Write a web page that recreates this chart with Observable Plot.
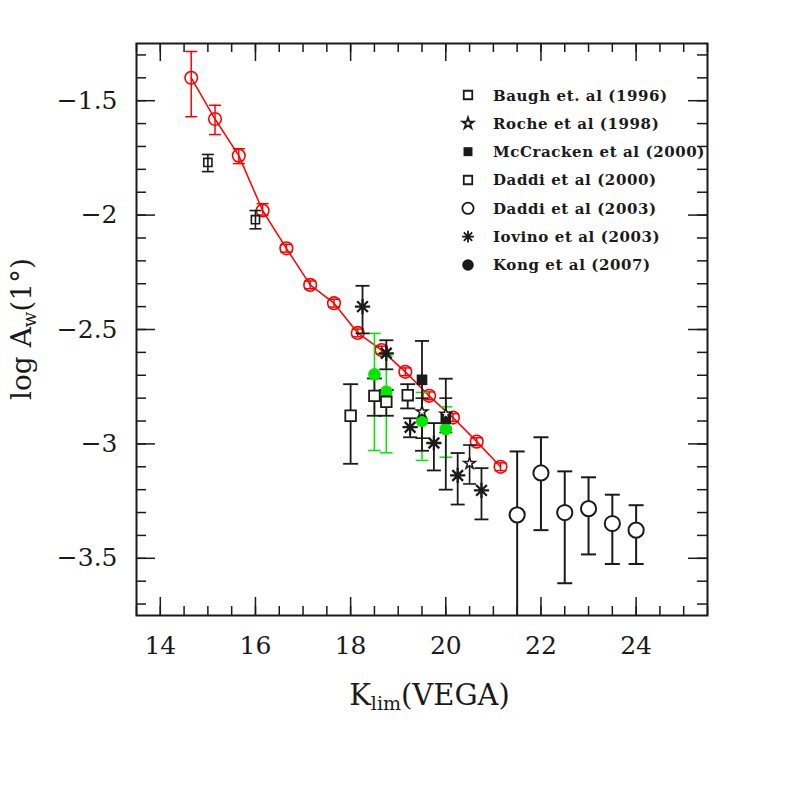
<!DOCTYPE html>
<html>
<head>
<meta charset="utf-8">
<script src="https://cdn.jsdelivr.net/npm/d3@7"></script>
<script src="https://cdn.jsdelivr.net/npm/@observablehq/plot@0.6"></script>
<style>
  body { margin: 0; background: #fff; }
  #chart { position: relative; width: 797px; height: 797px; }
</style>
</head>
<body>
<div id="chart"></div>
<script>
// ---------- tick labels ----------
const xMajor = [14, 16, 18, 20, 22, 24];
const yMajor = [-3.5, -3, -2.5, -2, -1.5];

// ---------- this work (red) ----------
const redK  = [14.65, 15.15, 15.65, 16.15, 16.65, 17.15, 17.65, 18.15, 18.65, 19.15, 19.65, 20.15, 20.65, 21.15];
const redA  = [-1.40, -1.58, -1.74, -1.98, -2.145, -2.305, -2.385, -2.515, -2.59, -2.685, -2.79, -2.885, -2.99, -3.10];
const redLo = [-1.57, -1.648, -1.775, -2.00, -2.162, -2.322, -2.402, -2.532, -2.607, -2.702, -2.807, -2.902, -3.007, -3.117];
const redHi = [-1.285, -1.52, -1.71, -1.95, -2.128, -2.288, -2.368, -2.498, -2.573, -2.668, -2.773, -2.868, -2.973, -3.083];

// ---------- Baugh et. al (1996) ----------
const baughK  = [15, 16];
const baughA  = [-1.77, -2.02];
const baughLo = [-1.81, -2.06];
const baughHi = [-1.735, -1.98];

// ---------- Roche et al (1998) ----------
const rocheK  = [19.5, 20, 20.5];
const rocheA  = [-2.86, -2.87, -3.085];
const rocheLo = [-2.975, -2.95, -3.175];
const rocheHi = [-2.80, -2.80, -3.005];

// ---------- McCracken et al (2000) ----------
const mccK  = [19.5, 20];
const mccA  = [-2.72, -2.89];
const mccLo = [-3.03, -3.20];
const mccHi = [-2.55, -2.715];

// ---------- Daddi et al (2000) ----------
const d00K  = [18, 18.5, 18.75, 19.2];
const d00A  = [-2.877, -2.79, -2.816, -2.787];
const d00Lo = [-3.087, -2.877, -2.877, -2.845];
const d00Hi = [-2.739, -2.714, -2.764, -2.739];

// ---------- Daddi et al (2003) ----------
const d03K  = [21.5, 22, 22.5, 23, 23.5, 24];
const d03A  = [-3.31, -3.127, -3.30, -3.283, -3.348, -3.377];
const d03Lo = [-3.9, -3.377, -3.609, -3.483, -3.525, -3.525];
const d03Hi = [-3.033, -2.971, -3.12, -3.146, -3.222, -3.268];

// ---------- Iovino et al (2003) ----------
const iovK  = [18.25, 18.75, 19.25, 19.75, 20.25, 20.75];
const iovA  = [-2.40, -2.604, -2.927, -2.996, -3.138, -3.203];
const iovLo = [-2.517, -2.674, -2.971, -3.116, -3.265, -3.33];
const iovHi = [-2.309, -2.547, -2.888, -2.909, -3.04, -3.106];

// ---------- Kong et al (2007) (green) ----------
const kongK  = [18.5, 18.75, 19.5, 20];
const kongA  = [-2.696, -2.772, -2.899, -2.935];
const kongLo = [-3.029, -3.039, -3.072, -3.058];
const kongHi = [-2.517, -2.613, -2.775, -2.838];

// ---------- legend ----------
const legendLabels  = ["Baugh et. al (1996)", "Roche et al (1998)", "McCracken et al (2000)",
                       "Daddi et al (2000)", "Daddi et al (2003)", "Iovino et al (2003)", "Kong et al (2007)"];
const legendSymbols = ["square", "star", "squareFilled", "square", "circle", "asterisk", "circleFilled"];

// ---------- layout ----------
const W = 797, H = 797, mL = 136, mR = 90, mT = 43, mB = 182;
const fW = W - mL - mR, fH = H - mT - mB;
const INK = "#1a1a1a";
const RED = "#ff0000";
const GREEN = "#00e800";
const FONT = "DejaVu Serif";

const rows = (K, A, lo, hi) => K.map((k, i) => ({k, a: A[i], lo: lo[i], hi: hi[i]}));
const red = rows(redK, redA, redLo, redHi);
const baugh = rows(baughK, baughA, baughLo, baughHi);
const roche = rows(rocheK, rocheA, rocheLo, rocheHi);
const mcc = rows(mccK, mccA, mccLo, mccHi);
const d00 = rows(d00K, d00A, d00Lo, d00Hi);
const d03 = rows(d03K, d03A, d03Lo, d03Hi);
const iov = rows(iovK, iovA, iovLo, iovHi);
const kong = rows(kongK, kongA, kongLo, kongHi);

// custom symbols: r = half-width
const cap = { draw(ctx, size) { const w = Math.sqrt(size / Math.PI); ctx.moveTo(-w, 0); ctx.lineTo(w, 0); } };
const aster = { draw(ctx, size) {
  const r = Math.sqrt(size / Math.PI), d = r * Math.SQRT1_2;
  ctx.moveTo(0, -r); ctx.lineTo(0, r);
  ctx.moveTo(-r, 0); ctx.lineTo(r, 0);
  ctx.moveTo(-d, -d); ctx.lineTo(d, d);
  ctx.moveTo(-d, d); ctx.lineTo(d, -d);
} };

function errMarks(data, color, capR, sw) {
  return [
    Plot.ruleX(data, {x: "k", y1: "lo", y2: "hi", stroke: color, strokeWidth: sw, clip: true}),
    Plot.dot(data, {x: "k", y: "lo", symbol: cap, r: capR, stroke: color, strokeWidth: sw, fill: "none", clip: true}),
    Plot.dot(data, {x: "k", y: "hi", symbol: cap, r: capR, stroke: color, strokeWidth: sw, fill: "none", clip: true})
  ];
}

const xMinor = d3.range(13.5, 25.51, 0.5);
const yMinor = d3.range(-3.7, -1.29, 0.1).map(v => +v.toFixed(2));
const fmtY = d => String(d).replace("-", "\u2212");

const plot = Plot.plot({
  width: W, height: H,
  marginLeft: mL, marginRight: mR, marginTop: mT, marginBottom: mB,
  x: {domain: [13.5, 25.5], label: null},
  y: {domain: [-3.75, -1.25], label: null},
  style: {fontFamily: FONT, background: "#fff", color: INK},
  marks: [
    Plot.axisX(xMajor, {tickSize: 0, tickPadding: 21, fontSize: 25, fontFamily: FONT, tickFormat: d => String(d), label: null}),
    Plot.axisY(yMajor, {tickSize: 0, tickPadding: 19, fontSize: 25, fontFamily: FONT, tickFormat: fmtY, label: null}),
    // inward ticks
    Plot.ruleX(xMinor, {x: d => d, insetTop: fH - 9, stroke: INK, strokeWidth: 1.5}),
    Plot.ruleX(xMinor, {x: d => d, insetBottom: fH - 9, stroke: INK, strokeWidth: 1.5}),
    Plot.ruleX(xMajor, {x: d => d, insetTop: fH - 18, stroke: INK, strokeWidth: 1.5}),
    Plot.ruleX(xMajor, {x: d => d, insetBottom: fH - 18, stroke: INK, strokeWidth: 1.5}),
    Plot.ruleY(yMinor, {y: d => d, insetRight: fW - 10, stroke: INK, strokeWidth: 1.5}),
    Plot.ruleY(yMinor, {y: d => d, insetLeft: fW - 10, stroke: INK, strokeWidth: 1.5}),
    Plot.ruleY(yMajor, {y: d => d, insetRight: fW - 19, stroke: INK, strokeWidth: 1.5}),
    Plot.ruleY(yMajor, {y: d => d, insetLeft: fW - 19, stroke: INK, strokeWidth: 1.5}),
    Plot.frame({stroke: INK, strokeWidth: 2}),

    // this work (red)
    Plot.line(red, {x: "k", y: "a", stroke: RED, strokeWidth: 1.5}),
    ...errMarks(red, RED, 6, 1.5),
    Plot.dot(red, {x: "k", y: "a", r: 6.3, stroke: RED, strokeWidth: 1.6, fill: "none"}),

    // Kong green bars
    ...errMarks(kong, GREEN, 6.3, 1.5),

    // black error bars
    ...errMarks(baugh, INK, 6, 1.6),
    ...errMarks(d00, INK, 7.5, 1.8),
    ...errMarks(d03, INK, 7.5, 2),
    ...errMarks(iov, INK, 7, 1.8),
    ...errMarks(mcc, INK, 7, 1.8),
    ...errMarks(roche, INK, 6.5, 1.6),

    // Kong dots
    Plot.dot(kong, {x: "k", y: "a", r: 6.3, fill: GREEN, stroke: "none"}),

    // symbols
    Plot.dot(baugh, {x: "k", y: "a", symbol: "square", r: 4.6, stroke: INK, strokeWidth: 1.6, fill: "none"}),
    Plot.dot(d00, {x: "k", y: "a", symbol: "square", r: 6, stroke: INK, strokeWidth: 1.8, fill: "#fff"}),
    Plot.dot(d03, {x: "k", y: "a", r: 7.6, stroke: INK, strokeWidth: 2, fill: "#fff"}),
    Plot.dot(iov, {x: "k", y: "a", symbol: aster, r: 7.6, stroke: INK, strokeWidth: 2.3, fill: "none"}),
    Plot.dot(mcc, {x: "k", y: "a", symbol: "square", r: 6, fill: INK, stroke: "none"}),
    Plot.dot(roche, {x: "k", y: "a", symbol: "star", r: 3.6, stroke: INK, strokeWidth: 1.5, fill: "#fff"})
  ]
});

document.getElementById("chart").appendChild(plot);

// ---------- axis titles ----------
const svg = d3.select(plot);
const xs = plot.scale("x"), ys = plot.scale("y");
const xMid = (xs.range[0] + xs.range[1]) / 2;
const yMid = (ys.range[0] + ys.range[1]) / 2;

const xt = svg.append("text")
  .attr("x", xMid + 8).attr("y", ys.range[0] + 90)
  .attr("text-anchor", "middle").attr("font-family", FONT).attr("font-size", 29).attr("fill", INK);
xt.append("tspan").text("K");
xt.append("tspan").attr("font-size", 19).attr("dy", 5).text("lim");
xt.append("tspan").attr("dy", -5).text("(VEGA)");

const yt = svg.append("text")
  .attr("transform", `translate(31,${yMid}) rotate(-90)`)
  .attr("text-anchor", "middle").attr("font-family", FONT).attr("font-size", 28).attr("fill", INK);
yt.append("tspan").text("log A");
yt.append("tspan").attr("font-size", 18).attr("dy", 5).text("w");
yt.append("tspan").attr("dy", -5).text("(1\u00b0)");

// ---------- legend ----------
const lg = svg.append("g").attr("transform", "translate(468,95)");
const symMap = {
  square: [d3.symbolSquare, 72, false],
  squareFilled: [d3.symbolSquare, 80, true],
  star: [d3.symbolStar, 38, false],
  circle: [d3.symbolCircle, 100, false],
  circleFilled: [d3.symbolCircle, 105, true],
  asterisk: [aster, 110, false]
};
legendLabels.forEach((label, i) => {
  const g = lg.append("g").attr("transform", `translate(0,${i * 28.33})`);
  const [type, size, filled] = symMap[legendSymbols[i]];
  g.append("path").attr("d", d3.symbol(type, size)())
    .attr("fill", filled ? INK : "#fff").attr("stroke", filled ? "none" : INK).attr("stroke-width", 1.8);
  g.append("text").attr("x", 25).attr("y", 5.5).attr("text-anchor", "start")
    .attr("font-family", FONT).attr("font-size", 15).attr("font-weight", "bold")
    .attr("letter-spacing", 0.6).attr("fill", INK)
    .text(label);
});
</script>
</body>
</html>
